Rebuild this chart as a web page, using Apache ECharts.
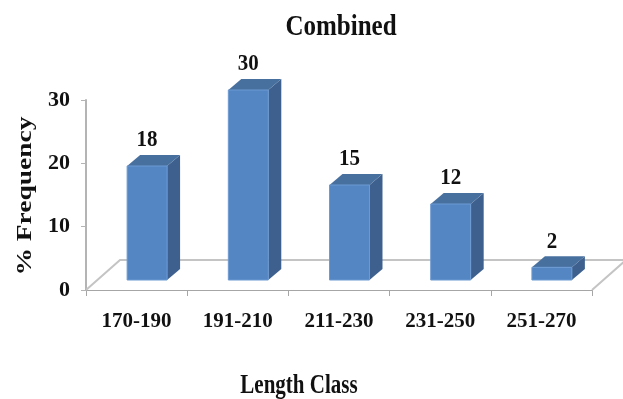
<!DOCTYPE html>
<html>
<head>
<meta charset="utf-8">
<script src="https://cdn.jsdelivr.net/npm/echarts@6/dist/echarts.min.js"></script>
<style>
  html, body { margin: 0; padding: 0; background: #ffffff; }
  #chart { width: 623px; height: 399px; }
</style>
</head>
<body>
<div id="chart"></div>
<script>
// Length classes and their % frequency
const categories = ['170-190', '191-210', '211-230', '231-250', '251-270'];
const frequency = [18, 30, 15, 12, 2];
const yTicks = [0, 10, 20, 30];

const SERIF = '"Liberation Serif", "Times New Roman", serif';
const INK = '#111111';

// pseudo-3D geometry (pixels)
const FLOOR_DEPTH = [34, -30];   // floor front edge -> back edge
const BAR_SHIFT = [10.5, -10];   // bar front face sits a third into the floor
const BAR_DEPTH = [13, -11];     // bar front face -> back face
const BAR_RATIO = 0.395;         // bar width / category width

const FRONT = '#5486c4';
const FRONT_EDGE = '#6c9ad2';
const SIDE = '#3e608e';
const TOP = '#48709f';

const chart = echarts.init(document.getElementById('chart'), null, { renderer: 'canvas' });

// floor of the plot: back edge and the two side edges
function renderFloor(params, api) {
  const cs = params.coordSys;
  const x0 = cs.x, x1 = cs.x + cs.width, y0 = cs.y + cs.height;
  const dx = FLOOR_DEPTH[0], dy = FLOOR_DEPTH[1];
  return {
    type: 'group',
    children: [
      {
        type: 'polygon',
        shape: { points: [[x0, y0], [x1, y0], [x1 + dx, y0 + dy], [x0 + dx, y0 + dy]] },
        style: { fill: '#ffffff', stroke: null }
      },
      {
        type: 'polyline',
        shape: { points: [[x0, y0], [x0 + dx, y0 + dy], [x1 + dx, y0 + dy], [x1, y0]] },
        style: { fill: null, stroke: '#c4c4c4', lineWidth: 2 }
      }
    ]
  };
}

// one 3D column per category
function renderBar(params, api) {
  const idx = api.value(0);
  const val = api.value(1);
  const base = api.coord([idx, 0]);
  const top = api.coord([idx, val]);
  const w = api.size([1, 0])[0] * BAR_RATIO;
  const cx = base[0] + BAR_SHIFT[0];
  const xl = cx - w / 2, xr = cx + w / 2;
  const yb = base[1] + BAR_SHIFT[1];
  const yt = top[1] + BAR_SHIFT[1];
  const ox = BAR_DEPTH[0], oy = BAR_DEPTH[1];
  return {
    type: 'group',
    children: [
      {
        type: 'polygon',
        shape: { points: [[xr, yt], [xr + ox, yt + oy], [xr + ox, yb + oy], [xr, yb]] },
        style: { fill: SIDE }
      },
      {
        type: 'polygon',
        shape: { points: [[xl, yt], [xl + ox, yt + oy], [xr + ox, yt + oy], [xr, yt]] },
        style: { fill: TOP }
      },
      {
        type: 'rect',
        shape: { x: xl, y: yt, width: w, height: yb - yt },
        style: { fill: FRONT, stroke: FRONT_EDGE, lineWidth: 1 }
      },
      {
        type: 'text',
        x: cx, y: yt + oy - 3,
        scaleY: 1.1,
        style: {
          x: 0, y: 0,
          text: String(val),
          fill: INK,
          font: 'bold 21px ' + SERIF,
          align: 'center',
          verticalAlign: 'bottom'
        }
      }
    ]
  };
}

// stretched serif caption used for the title and axis names
function caption(text, x, y, size, sx, sy, rot) {
  return {
    type: 'text',
    x: x, y: y,
    rotation: rot || 0,
    scaleX: sx, scaleY: sy,
    silent: true,
    style: {
      x: 0, y: 0,
      text: text,
      fill: INK,
      font: 'bold ' + size + 'px ' + SERIF,
      align: 'center',
      verticalAlign: 'middle'
    }
  };
}

chart.setOption({
  backgroundColor: '#ffffff',
  animation: false,
  graphic: [
    caption('Combined', 341, 27, 25, 1, 1.2),
    caption('Length Class', 299, 386, 21, 1, 1.25),
    caption('% Frequency', 25, 196, 22, 1.25, 1, Math.PI / 2)
  ],
  grid: { left: 86, top: 100, width: 506, height: 190, containLabel: false },
  xAxis: {
    type: 'category',
    data: categories,
    axisLine: { show: true, lineStyle: { color: '#a6a6a6', width: 2 } },
    axisTick: { show: true, length: 6, lineStyle: { color: '#a6a6a6', width: 1 } },
    axisLabel: {
      margin: 21,
      fontFamily: SERIF, fontWeight: 'bold', fontSize: 21, color: INK
    },
    splitLine: { show: false }
  },
  yAxis: {
    type: 'value',
    min: yTicks[0],
    max: yTicks[yTicks.length - 1],
    interval: 10,
    axisLine: { show: true, lineStyle: { color: '#b4b4b4', width: 2 } },
    axisTick: { show: true, length: 5, lineStyle: { color: '#b4b4b4', width: 1 } },
    axisLabel: {
      margin: 16,
      fontFamily: SERIF, fontWeight: 'bold', fontSize: 22, color: INK
    },
    splitLine: { show: false }
  },
  series: [
    {
      type: 'custom',
      renderItem: renderFloor,
      data: [[0, 0]],
      silent: true,
      z: 1
    },
    {
      type: 'custom',
      renderItem: renderBar,
      data: frequency.map((v, i) => [i, v]),
      encode: { x: 0, y: 1 },
      z: 3
    }
  ]
});
</script>
</body>
</html>
